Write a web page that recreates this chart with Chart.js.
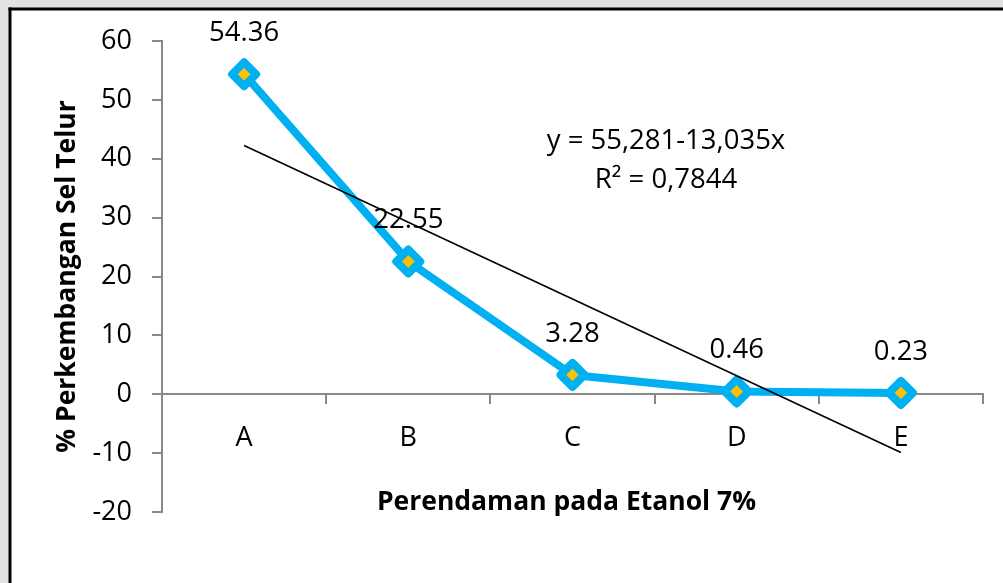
<!DOCTYPE html>
<html><head><meta charset="utf-8">
<script src="https://cdn.jsdelivr.net/npm/chart.js@4.4.1/dist/chart.umd.min.js"></script>
<style>html,body{margin:0;padding:0;background:#fff;overflow:hidden}#wrap{width:1003px;height:583px;position:relative}</style>
</head><body><div id="wrap"><canvas id="c" width="1003" height="583"></canvas></div>
<script>
const categories = ['A', 'B', 'C', 'D', 'E'];
const perkembangan = [54.36, 22.55, 3.28, 0.46, 0.23];
const yTickValues = [-20, -10, 0, 10, 20, 30, 40, 50, 60];
const trendIntercept = 55.281;
const trendSlope = -13.035;
const equationLines = ['y = 55,281-13,035x', 'R\u00b2 = 0,7844'];
const xTitle = 'Perendaman pada Etanol 7%';
const yTitle = '% Perkembangan Sel Telur';

const FONT = "'Open Sans', sans-serif";
const AXIS = '#898989';

const trendValues = categories.map((_, i) => trendIntercept + trendSlope * (i + 1));

const framePlugin = {
  id: 'frame',
  beforeDraw(chart) {
    const ctx = chart.ctx;
    ctx.save();
    ctx.fillStyle = '#e2e2e2';
    ctx.fillRect(0, 0, chart.width, chart.height);
    ctx.fillStyle = '#ffffff';
    ctx.fillRect(10, 8.5, chart.width, chart.height);
    ctx.fillStyle = '#000000';
    ctx.fillRect(8.5, 7.5, chart.width, 3);
    ctx.fillRect(8.5, 7.5, 3, chart.height);
    ctx.restore();
  },
  beforeDatasetsDraw(chart) {
    chart.ctx.save();
    chart.ctx.lineJoin = 'round';
  },
  afterDatasetsDraw(chart) {
    chart.ctx.restore();
  }
};

const textPlugin = {
  id: 'texts',
  afterDraw(chart) {
    const ctx = chart.ctx;
    const area = chart.chartArea;
    ctx.save();
    ctx.fillStyle = '#000';
    ctx.textAlign = 'center';
    ctx.textBaseline = 'middle';
    ctx.font = "27.5px " + FONT;
    const meta = chart.getDatasetMeta(0);
    meta.data.forEach((pt, i) => {
      ctx.fillText(perkembangan[i].toFixed(2), pt.x, pt.y - 41);
    });
    const ys = chart.scales.y;
    ctx.fillText(equationLines[0], 666, ys.getPixelForValue(43));
    ctx.fillText(equationLines[1], 666, ys.getPixelForValue(36.3));
    ctx.font = "bold 26.5px " + FONT;
    ctx.fillText(xTitle, (area.left + area.right) / 2 - 6, ys.getPixelForValue(-18.3));
    ctx.restore();
  }
};

new Chart(document.getElementById('c'), {
  type: 'line',
  data: {
    labels: categories,
    datasets: [
      {
        label: 'Perkembangan',
        data: perkembangan,
        borderColor: '#00B0F0',
        borderWidth: 8,
        borderJoinStyle: 'round',
        backgroundColor: '#FFC000',
        pointStyle: 'rectRot',
        pointRadius: 12,
        pointBorderWidth: 8,
        pointBorderColor: '#00B0F0',
        pointBackgroundColor: '#FFC000',
        tension: 0,
        order: 2
      },
      {
        label: 'Trend',
        data: trendValues,
        borderColor: '#000000',
        borderWidth: 1.6,
        pointRadius: 0,
        tension: 0,
        order: 1
      }
    ]
  },
  options: {
    responsive: false,
    animation: false,
    devicePixelRatio: 1,
    layout: { padding: { left: 52, right: 18.5, top: 41, bottom: 71 } },
    plugins: { legend: { display: false }, tooltip: { enabled: false } },
    scales: {
      x: {
        type: 'category',
        position: { y: 0 },
        offset: true,
        grid: { offset: true, drawOnChartArea: false, drawTicks: true, tickLength: 9, color: AXIS, lineWidth: 2 },
        border: { color: AXIS, width: 2 },
        ticks: { color: '#000', font: { family: FONT, size: 27 }, padding: 19, maxRotation: 0 }
      },
      y: {
        min: -20,
        max: 60,
        afterBuildTicks(scale) { scale.ticks = yTickValues.map(v => ({ value: v })); },
        afterFit(scale) { scale.width = 110; },
        grid: { drawOnChartArea: false, drawTicks: true, tickLength: 10, color: AXIS, lineWidth: 2 },
        border: { color: AXIS, width: 2 },
        ticks: { color: '#000', font: { family: FONT, size: 27 }, padding: 20 },
        title: { display: true, text: yTitle, color: '#000', font: { family: FONT, size: 26.5, weight: 'bold' }, padding: { top: 0, bottom: 0, y: 0 } }
      }
    }
  },
  plugins: [framePlugin, textPlugin]
});
</script></body></html>
